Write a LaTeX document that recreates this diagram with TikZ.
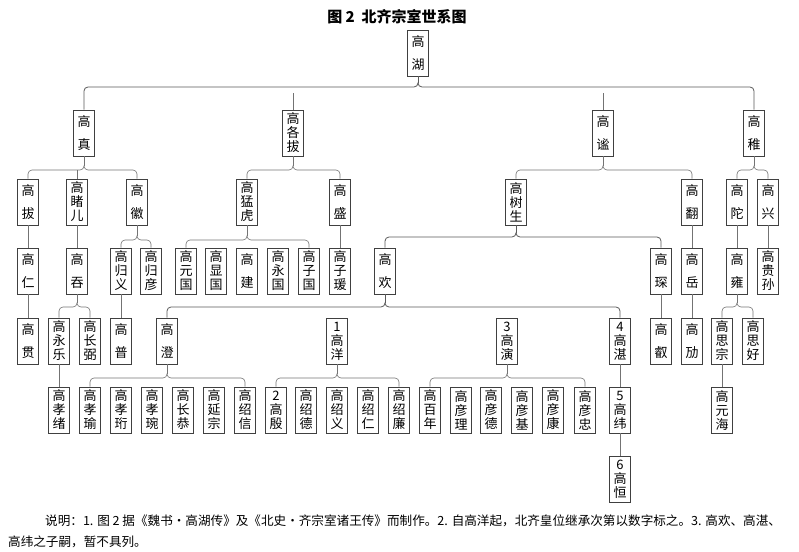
\documentclass[tikz,border=0pt]{standalone}
\usepackage{fontspec}
\newfontfamily\cjk{Noto Sans CJK SC}
\newcommand{\two}[2]{#1\\[9pt]#2}
% family bracket: parent, first child, last child, height of the bar
\newcommand{\famline}[5][]{%
  \path (#2 |- 0,#5) coordinate (m) (#3 |- 0,#5) coordinate (l) (#4 |- 0,#5) coordinate (r);
  \draw[link,#1] (#3.north) -- ([yshift=-4pt]l) to[out=90,in=180] ([xshift=4pt]l)
    -- ([xshift=-4pt]m) to[out=0,in=-90] ([yshift=4pt]m) to[out=-90,in=180] ([xshift=4pt]m)
    -- ([xshift=-4pt]r) to[out=0,in=90] ([yshift=-4pt]r) -- (#4.north);
  \draw[link,#1] ([yshift=4pt]m) -- (#2.south);
}
\begin{document}
\begin{tikzpicture}
    [x=1pt, y=-1pt,
    man/.style={draw=black!75, line width=0.7pt, minimum width=21pt, minimum height=46pt,
      inner sep=1pt, align=center, font=\cjk\fontsize{13}{14}\selectfont},
    link/.style={draw=black!55, line width=0.6pt},
    big/.style={draw=black!65, line width=0.8pt},
    note/.style={anchor=west, inner sep=0pt, font=\cjk\fontsize{12.6}{15}\selectfont}]
    \useasboundingbox (0,0) rectangle (799,551);
    \node[font=\cjk\bfseries\fontsize{15}{15}\selectfont] (title) at (397,17) {图 2\ \ 北齐宗室世系图};
    % generation 1
    \node[man] (hu) at (418,53) {\two{高}{湖}};
    % generation 2
    \node[man] (zhen) at (84,133) {\two{高}{真}};
    \node[man] (geba) at (293,133) {高\\各\\拔};
    \node[man] (mi) at (603,133) {\two{高}{谧}};
    \node[man] (zhi) at (754,133) {\two{高}{稚}};
    % generation 3
    \node[man] (ba) at (28,202) {\two{高}{拔}};
    \node[man] (duer) at (77,202) {高\\睹\\儿};
    \node[man] (hui) at (137,202) {\two{高}{徽}};
    \node[man] (menghu) at (247,202) {高\\猛\\虎};
    \node[man] (sheng) at (340,202) {\two{高}{盛}};
    \node[man] (shusheng) at (516,202) {高\\树\\生};
    \node[man] (fan) at (692,202) {\two{高}{翻}};
    \node[man] (tuo) at (737,202) {\two{高}{陀}};
    \node[man] (xing) at (768,202) {\two{高}{兴}};
    % generation 4
    \node[man] (ren) at (28,271) {\two{高}{仁}};
    \node[man] (tun) at (77,271) {\two{高}{吞}};
    \node[man] (guiyi) at (121,271) {高\\归\\义};
    \node[man] (guiyan) at (151,271) {高\\归\\彦};
    \node[man] (yuanguo) at (186,271) {高\\元\\国};
    \node[man] (xianguo) at (216,271) {高\\显\\国};
    \node[man] (jian) at (247,271) {\two{高}{建}};
    \node[man] (yongguo) at (278,271) {高\\永\\国};
    \node[man] (ziguo) at (309,271) {高\\子\\国};
    \node[man] (ziyuan) at (340,271) {高\\子\\瑗};
    \node[man] (huan) at (385,271) {\two{高}{欢}};
    \node[man] (chen) at (661,271) {\two{高}{琛}};
    \node[man] (yue) at (692,271) {\two{高}{岳}};
    \node[man] (yong) at (737,271) {\two{高}{雍}};
    \node[man] (guisun) at (768,271) {高\\贵\\孙};
    % generation 5
    \node[man] (guan) at (28,341) {\two{高}{贯}};
    \node[man] (yongle) at (59,341) {高\\永\\乐};
    \node[man] (changbi) at (90,341) {高\\长\\弼};
    \node[man] (pu) at (121,341) {\two{高}{普}};
    \node[man] (cheng) at (167,341) {\two{高}{澄}};
    \node[man] (yang) at (337,341) {1\\高\\洋};
    \node[man] (yan) at (507,341) {3\\高\\演};
    \node[man] (zhan) at (620,341) {4\\高\\湛};
    \node[man] (rui) at (661,341) {\two{高}{叡}};
    \node[man] (mai) at (692,341) {\two{高}{劢}};
    \node[man] (sizong) at (722,341) {高\\思\\宗};
    \node[man] (sihao) at (753,341) {高\\思\\好};
    % generation 6
    \node[man] (xiaoxu) at (59,410) {高\\孝\\绪};
    \node[man] (xiaoyu) at (90,410) {高\\孝\\瑜};
    \node[man] (xiaoheng) at (121,410) {高\\孝\\珩};
    \node[man] (xiaowan) at (152,410) {高\\孝\\琬};
    \node[man] (changgong) at (183,410) {高\\长\\恭};
    \node[man] (yanzong) at (214,410) {高\\延\\宗};
    \node[man] (shaoxin) at (245,410) {高\\绍\\信};
    \node[man] (yin) at (276,410) {2\\高\\殷};
    \node[man] (shaode) at (306,410) {高\\绍\\德};
    \node[man] (shaoyi) at (337,410) {高\\绍\\义};
    \node[man] (shaoren) at (368,410) {高\\绍\\仁};
    \node[man] (shaolian) at (399,410) {高\\绍\\廉};
    \node[man] (bainian) at (430,410) {高\\百\\年};
    \node[man] (yanli) at (461,410) {高\\彦\\理};
    \node[man] (yande) at (491,410) {高\\彦\\德};
    \node[man] (yanji) at (522,410) {高\\彦\\基};
    \node[man] (yankang) at (553,410) {高\\彦\\康};
    \node[man] (yanzhong) at (585,410) {高\\彦\\忠};
    \node[man] (wei) at (620,410) {5\\高\\纬};
    \node[man] (yuanhai) at (722,410) {高\\元\\海};
    % generation 7
    \node[man] (heng) at (620,479) {6\\高\\恒};
    % brackets
    \famline[big]{hu}{zhen}{zhi}{87}
    \draw[link] (geba.north) -- (geba |- 0,93);
    \draw[link] (mi.north) -- (mi |- 0,93);
    \famline{zhen}{ba}{hui}{170}
    \draw[link] (duer.north) -- (duer |- 0,170);
    \famline{geba}{menghu}{sheng}{170}
    \famline{mi}{shusheng}{fan}{170}
    \famline{zhi}{tuo}{xing}{170}
    \famline[big]{shusheng}{huan}{chen}{237}
    \famline{hui}{guiyi}{guiyan}{240}
    \famline{menghu}{yuanguo}{ziguo}{240}
    \famline{tun}{yongle}{changbi}{307}
    \famline[big]{huan}{cheng}{zhan}{307}
    \famline{yong}{sizong}{sihao}{307}
    \famline{cheng}{xiaoyu}{shaoxin}{378}
    \famline{yang}{yin}{shaolian}{378}
    \famline{yan}{bainian}{yanzhong}{378}
    % single lines
    \draw[link] (ba) -- (ren) (ren) -- (guan) (duer) -- (tun) (sheng) -- (ziyuan)
      (guiyi) -- (pu) (yongle) -- (xiaoxu) (fan) -- (yue) (yue) -- (mai)
      (chen) -- (rui) (tuo) -- (yong) (xing) -- (guisun) (sizong) -- (yuanhai)
      (zhan) -- (wei) (wei) -- (heng);
    % note
    \node[note] (note1) at (45,521) {说明：1. 图 2 据《魏书・高湖传》及《北史・齐宗室诸王传》而制作。2. 自高洋起，北齐皇位继承次第以数字标之。3. 高欢、高湛、};
    \node[note] (note2) at (8,542) {高纬之子嗣，暂不具列。};
  \end{tikzpicture}
\end{document}
